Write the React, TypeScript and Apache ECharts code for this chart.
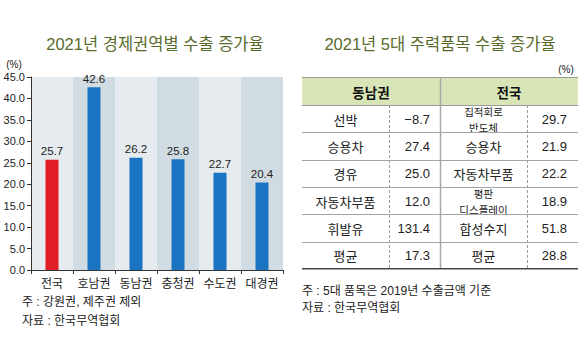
import React, { useEffect, useRef } from "react";
import * as echarts from "echarts";

const regions = ["전국", "호남권", "동남권", "충청권", "수도권", "대경권"];
const growth = [25.7, 42.6, 26.2, 25.8, 22.7, 20.4];
const yTicks = { min: 0, max: 45, interval: 5 };

const leftTitle = "2021년 경제권역별 수출 증가율";
const rightTitle = "2021년 5대 주력품목 수출 증가율";
const leftNotes = ["주 : 강원권, 제주권 제외", "자료 : 한국무역협회"];
const rightNotes = ["주 : 5대 품목은 2019년 수출금액 기준", "자료 : 한국무역협회"];

const tableGroups = ["동남권", "전국"];
const seItems = ["선박", "승용차", "경유", "자동차부품", "휘발유", "평균"];
const seValues = [-8.7, 27.4, 25.0, 12.0, 131.4, 17.3];
const natItems = ["집적회로\n반도체", "승용차", "자동차부품", "평판\n디스플레이", "합성수지", "평균"];
const natValues = [29.7, 21.9, 22.2, 18.9, 51.8, 28.8];

const FONT = "'Liberation Sans', 'Noto Sans CJK KR', sans-serif";
const KFONT = "'Noto Sans CJK KR', sans-serif";

function fmt(v: number) {
  return v < 0 ? "\u2212" + Math.abs(v).toFixed(1) : v.toFixed(1);
}

function txt(text: string, x: number, y: number, size: number, fill: string, align = "center", weight = "normal", family = FONT) {
  return {
    type: "text",
    silent: true,
    style: {
      text,
      x,
      y,
      fill,
      fontSize: size,
      fontFamily: family,
      fontWeight: weight,
      align,
      textAlign: align,
      verticalAlign: "middle",
      textVerticalAlign: "middle",
    },
  };
}

function ln(x1: number, y1: number, x2: number, y2: number, stroke: string, lw = 1, dash?: number[]) {
  return {
    type: "line",
    silent: true,
    shape: { x1, y1, x2, y2 },
    style: { stroke, lineWidth: lw, lineDash: dash },
  };
}

function buildTable() {
  const els: any[] = [];
  const x0 = 302, x1 = 389, x2 = 440, x3 = 527, x4 = 578;
  const top = 77, headerH = 28, rowH = 27.3;
  const nRows = seItems.length;
  const bottom = top + headerH + rowH * nRows;
  els.push({
    type: "rect",
    silent: true,
    shape: { x: x0, y: top, width: x4 - x0, height: headerH },
    style: { fill: "#d8e5b6" },
  });
  els.push(ln(x0, top + 0.5, x4, top + 0.5, "#9a9a9a", 1));
  els.push(ln(x0, top + headerH + 0.5, x4, top + headerH + 0.5, "#9a9a9a", 1));
  els.push(txt(tableGroups[0], (x0 + x2) / 2, top + headerH / 2 + 1, 13.5, "#111", "center", "bold", KFONT));
  els.push(txt(tableGroups[1], (x2 + x4) / 2, top + headerH / 2 + 1, 13.5, "#111", "center", "bold", KFONT));
  for (let i = 0; i < nRows; i++) {
    const yTop = top + headerH + rowH * i;
    const yc = yTop + rowH / 2 + 0.5;
    const natLines = natItems[i].split("\n");
    els.push(txt(seItems[i], (x0 + x1) / 2, yc, 13, "#222", "center", "normal", KFONT));
    els.push(txt(fmt(seValues[i]), x2 - 10, yc, 13, "#222", "right"));
    if (natLines.length > 1) {
      const gap = 7.7;
      natLines.forEach((s, k) => {
        els.push(txt(s, (x2 + x3) / 2, yc + (k === 0 ? -gap : gap) + 0.3, 10.5, "#222", "center", "normal", KFONT));
      });
    } else {
      els.push(txt(natLines[0], (x2 + x3) / 2, yc, 13, "#222", "center", "normal", KFONT));
    }
    els.push(txt(fmt(natValues[i]), x4 - 11, yc, 13, "#222", "right"));
    if (i < nRows - 1) {
      const yb = Math.round(yTop + rowH) + 0.5;
      els.push(ln(x0, yb, x4, yb, "#a5a5a5", 1));
    }
  }
  els.push(ln(x1 + 0.5, top + headerH, x1 + 0.5, bottom, "#9a9a9a", 1, [3, 2]));
  els.push(ln(x3 + 0.5, top + headerH, x3 + 0.5, bottom, "#9a9a9a", 1, [3, 2]));
  els.push(ln(x2 + 0.5, top, x2 + 0.5, bottom, "#a8a8a8", 1.5));
  els.push(ln(x0, bottom, x4, bottom, "#444", 1.5));
  els.push(txt("(%)", x4 - 12, 69, 10, "#222", "center"));
  return els;
}

export default function App() {
  const ref = useRef<HTMLDivElement>(null);
  useEffect(() => {
    if (!ref.current) return;
    const chart = echarts.init(ref.current, null, { renderer: "svg" });
    const graphic: any[] = [
      txt(leftTitle, 155, 44, 16.5, "#5a6a2c", "center", "normal", FONT),
      txt(rightTitle, 440, 44, 16.5, "#5a6a2c", "center", "normal", FONT),
      txt("(%)", 14, 64, 10, "#222", "center"),
      txt(leftNotes[0], 22, 302, 12, "#222", "left", "normal", FONT),
      txt(leftNotes[1], 22, 321, 12, "#222", "left", "normal", FONT),
      txt(rightNotes[0], 302, 291, 12, "#222", "left", "normal", FONT),
      txt(rightNotes[1], 302, 308, 12, "#222", "left", "normal", FONT),
      ...buildTable(),
    ];
    chart.setOption({
      animation: false,
      textStyle: { fontFamily: FONT },
      grid: { left: 31, right: 297, top: 77, bottom: 90, containLabel: false },
      xAxis: {
        type: "category",
        data: regions,
        axisLine: { show: true, lineStyle: { color: "#333", width: 1 } },
        axisTick: { show: true, length: 4, interval: 0, lineStyle: { color: "#333" } },
        axisLabel: { color: "#222", fontSize: 12, margin: 6, interval: 0, fontFamily: KFONT },
        splitLine: { show: false },
        splitArea: { show: true, interval: 0, areaStyle: { color: ["#e5ebef", "#d1dce2"] } },
      },
      yAxis: {
        type: "value",
        min: yTicks.min,
        max: yTicks.max,
        interval: yTicks.interval,
        axisLine: { show: true, lineStyle: { color: "#333", width: 1 } },
        axisTick: { show: true, length: 4, lineStyle: { color: "#333" } },
        axisLabel: { color: "#222", fontSize: 11, margin: 6, formatter: (v: number) => v.toFixed(1) },
        splitLine: { show: false },
      },
      series: [
        {
          type: "bar",
          data: growth.map((v, i) => ({
            value: v,
            itemStyle: { color: i === 0 ? "#e01f26" : "#1b74c1" },
          })),
          barWidth: 13,
          label: {
            show: true,
            position: "top",
            distance: 3,
            color: "#222",
            fontSize: 11.5,
            formatter: (p: any) => Number(p.value).toFixed(1),
          },
        },
      ],
      graphic,
    });
    return () => chart.dispose();
  }, []);
  return (
    <div
      ref={ref}
      style={{ position: "absolute", left: 0, top: 0, width: 580, height: 360, background: "#fff" }}
    />
  );
}
